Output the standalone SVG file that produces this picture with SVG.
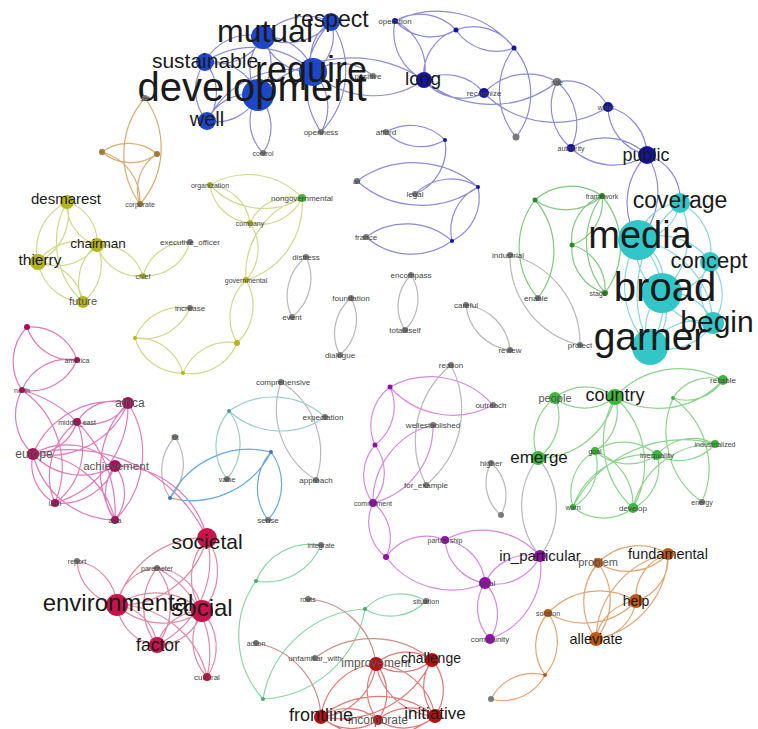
<svg xmlns="http://www.w3.org/2000/svg" width="758" height="729" viewBox="0 0 758 729">
<style>
.e{fill:none;stroke-width:1.2}
.eb{stroke:#8c8cd6}.ec{stroke:#8ad6dc}.eg{stroke:#80c880}.egr{stroke:#b8b8b8}.ey{stroke:#d2d88e}.eo{stroke:#d8ac72}
.em{stroke:#e07ab8}.ecr{stroke:#e08aa2}.elb{stroke:#9ccfc8}.ebl{stroke:#6aa8dc}.ep{stroke:#d68ae2}.eg2{stroke:#8ed48e}
.eo2{stroke:#e2a676}.elg{stroke:#8ad6a8}.ebr{stroke:#c89088}.ered{stroke:#e07878}
.nb{fill:#1e46c8}.nn{fill:#1414a0}.nc{fill:#33c6c8}.ng{fill:#3cb83c}.ndg{fill:#2a8a2a}.ny{fill:#b4b41c}.no{fill:#a07a38}
.nm{fill:#a8105c}.ncr{fill:#c8144a}.np{fill:#9010a8}.nr{fill:#b81010}.nor{fill:#c05810}.ngr{fill:#7a7a7a}
text{font-family:"Liberation Sans",Arial,sans-serif;text-anchor:middle;fill:#1a1a1a}
.s{font-size:8px;fill:#444}
.t{font-size:7px;fill:#444}
.m{fill:#555}
</style>
<rect width="758" height="729" fill="#ffffff"/>
<g id="edges">
<path class="e eb" d="M205 62 A50 50 0 0 1 258 95 M205 62 A50 50 0 0 1 263 37 M263 37 A50 50 0 0 1 205 62 M205 62 A47 47 0 0 1 207 121 M207 121 A47 47 0 0 1 205 62 M205 62 A86 86 0 0 1 313 72 M207 121 A46 46 0 0 1 258 95 M258 95 A46 46 0 0 1 207 121 M207 121 A94 94 0 0 1 313 72 M263 37 A46 46 0 0 1 258 95 M258 95 A46 46 0 0 1 263 37 M263 37 A56 56 0 0 1 331 22 M331 22 A56 56 0 0 1 263 37 M263 37 A49 49 0 0 1 313 72 M313 72 A49 49 0 0 1 263 37 M331 22 A42 42 0 0 1 313 72 M313 72 A42 42 0 0 1 331 22 M331 22 A88 88 0 0 1 321 132 M321 132 A88 88 0 0 1 331 22 M313 72 A49 49 0 0 1 321 132 M258 95 A46 46 0 0 1 263 153 M263 153 A46 46 0 0 1 258 95 M313 72 A48 48 0 0 1 373 76 M258 95 A134 134 0 0 1 424 80 M424 80 A89 89 0 0 1 313 72"/>
<path class="e eb" d="M424 80 A53 53 0 0 1 395 21 M395 21 A53 53 0 0 1 424 80 M424 80 A47 47 0 0 1 456 30 M395 21 A49 49 0 0 1 456 30 M456 30 A49 49 0 0 1 395 21 M456 30 A49 49 0 0 1 514 48 M514 48 A49 49 0 0 1 456 30 M395 21 A98 98 0 0 1 514 48 M424 80 A49 49 0 0 1 484 93 M484 93 A49 49 0 0 1 424 80 M484 93 A59 59 0 0 1 557 82 M557 82 A106 106 0 0 1 424 80 M608 107 A100 100 0 0 1 484 93 M557 82 A46 46 0 0 1 608 107 M557 82 A54 54 0 0 1 571 148 M571 148 A54 54 0 0 1 557 82 M514 48 A71 71 0 0 1 516 137 M516 137 A71 71 0 0 1 514 48 M608 107 A50 50 0 0 1 647 155 M647 155 A50 50 0 0 1 608 107 M571 148 A61 61 0 0 1 647 155 M647 155 A61 61 0 0 1 571 148 M647 155 A68 68 0 0 1 638 240 M638 240 A68 68 0 0 1 647 155 M647 155 A46 46 0 0 1 680 203"/>
<path class="e eb" d="M386 132 A48 48 0 0 1 445 140 M445 140 A48 48 0 0 1 386 132 M445 140 A49 49 0 0 1 415 194 M357 181 A97 97 0 0 1 478 187 M478 187 A97 97 0 0 1 357 181 M478 187 A48 48 0 0 1 452 241 M452 241 A48 48 0 0 1 478 187 M366 237 A69 69 0 0 1 452 241 M452 241 A69 69 0 0 1 366 237 M415 194 A50 50 0 0 1 478 187"/>
<path class="e ec" d="M638 240 A47 47 0 0 1 662 293 M662 293 A47 47 0 0 1 638 240 M638 240 A86 86 0 0 1 650 347 M650 347 A86 86 0 0 1 638 240 M638 240 A45 45 0 0 1 680 203 M680 203 A45 45 0 0 1 638 240 M638 240 A60 60 0 0 1 710 262 M662 293 A45 45 0 0 1 650 347 M650 347 A45 45 0 0 1 662 293 M662 293 A47 47 0 0 1 713 323 M713 323 A47 47 0 0 1 662 293 M710 262 A47 47 0 0 1 662 293 M650 347 A55 55 0 0 1 713 323 M713 323 A55 55 0 0 1 650 347 M680 203 A75 75 0 0 1 662 293 M710 262 A49 49 0 0 1 713 323 M713 323 A49 49 0 0 1 710 262 M680 203 A54 54 0 0 1 710 262 M650 347 A117 117 0 0 1 680 203 M638 240 A88 88 0 0 1 713 323"/>
<path class="e eg" d="M602 196 A54 54 0 0 1 535 200 M535 200 A54 54 0 0 1 602 196 M602 196 A46 46 0 0 1 572 245 M572 245 A46 46 0 0 1 602 196 M602 196 A78 78 0 0 1 605 293 M605 293 A78 78 0 0 1 602 196 M572 245 A46 46 0 0 1 605 293 M605 293 A46 46 0 0 1 572 245 M535 200 A78 78 0 0 1 538 298 M538 298 A78 78 0 0 1 535 200"/>
<path class="e egr" d="M510 255 A91 91 0 0 1 580 345 M580 345 A91 91 0 0 1 510 255 M466 305 A50 50 0 0 1 510 350 M510 350 A50 50 0 0 1 466 305 M306 257 A49 49 0 0 1 292 317 M292 317 A49 49 0 0 1 306 257 M351 298 A46 46 0 0 1 340 355 M340 355 A46 46 0 0 1 351 298 M411 275 A44 44 0 0 1 405 330 M405 330 A44 44 0 0 1 411 275 M451 365 A98 98 0 0 1 426 485 M426 485 A98 98 0 0 1 451 365 M491 463 A42 42 0 0 1 501 515 M501 515 A42 42 0 0 1 491 463 M538 458 A78 78 0 0 1 540 556 M540 556 A78 78 0 0 1 538 458 M281 382 A83 83 0 0 1 316 480 M316 480 A83 83 0 0 1 281 382 M175 437 A49 49 0 0 1 170 498 M170 498 A49 49 0 0 1 175 437"/>
<path class="e ey" d="M210 185 A74 74 0 0 1 302 198 M302 198 A74 74 0 0 1 210 185 M210 185 A44 44 0 0 1 250 223 M250 223 A44 44 0 0 1 210 185 M250 223 A46 46 0 0 1 302 198 M302 198 A46 46 0 0 1 250 223 M302 198 A79 79 0 0 1 246 280 M246 280 A79 79 0 0 1 302 198 M250 223 A46 46 0 0 1 246 280 M246 280 A51 51 0 0 1 237 343 M237 343 A51 51 0 0 1 246 280 M190 308 A50 50 0 0 1 135 338 M135 338 A50 50 0 0 1 190 308 M135 338 A48 48 0 0 1 183 373 M183 373 A48 48 0 0 1 135 338 M183 373 A49 49 0 0 1 237 343 M237 343 A49 49 0 0 1 183 373 M143 276 A46 46 0 0 1 190 242 M190 242 A46 46 0 0 1 143 276 M143 276 A44 44 0 0 1 97 245 M97 245 A44 44 0 0 1 143 276 M67 202 A42 42 0 0 1 97 245 M97 245 A42 42 0 0 1 67 202 M67 202 A53 53 0 0 1 38 262 M38 262 A53 53 0 0 1 67 202 M38 262 A49 49 0 0 1 97 245 M97 245 A49 49 0 0 1 38 262 M38 262 A48 48 0 0 1 83 302 M83 302 A48 48 0 0 1 38 262 M97 245 A47 47 0 0 1 83 302 M83 302 A47 47 0 0 1 97 245 M83 302 A81 81 0 0 1 67 202"/>
<path class="e eo" d="M145 98 A85 85 0 0 1 140 204 M140 204 A85 85 0 0 1 145 98 M102 152 A44 44 0 0 1 157 154 M157 154 A44 44 0 0 1 102 152 M102 152 A51 51 0 0 1 140 204 M140 204 A42 42 0 0 1 157 154"/>
<path class="e em" d="M27 327 A48 48 0 0 1 77 360 M77 360 A48 48 0 0 1 27 327 M22 390 A50 50 0 0 1 27 327 M22 390 A50 50 0 0 1 77 360 M77 360 A50 50 0 0 1 22 390 M33 454 A52 52 0 0 1 22 390 M22 390 A94 94 0 0 1 55 503 M22 390 A128 128 0 0 1 115 520 M128 403 A44 44 0 0 1 77 422 M77 422 A44 44 0 0 1 128 403 M128 403 A86 86 0 0 1 33 454 M33 454 A86 86 0 0 1 128 403 M128 403 A102 102 0 0 1 55 503 M128 403 A94 94 0 0 1 115 520 M115 520 A94 94 0 0 1 128 403 M77 422 A46 46 0 0 1 33 454 M77 422 A67 67 0 0 1 55 503 M55 503 A67 67 0 0 1 77 422 M33 454 A66 66 0 0 1 115 466 M115 466 A66 66 0 0 1 33 454 M33 454 A86 86 0 0 1 115 520 M115 520 A86 86 0 0 1 33 454 M55 503 A44 44 0 0 1 33 454 M115 466 A43 43 0 0 1 115 520 M115 520 A43 43 0 0 1 115 466 M115 466 A94 94 0 0 1 207 538 M33 454 A152 152 0 0 1 207 538 M115 466 A58 58 0 0 1 55 503"/>
<path class="e ecr" d="M207 538 A58 58 0 0 1 202 611 M202 611 A58 58 0 0 1 207 538 M207 538 A90 90 0 0 1 117 605 M117 605 A90 90 0 0 1 207 538 M207 538 A94 94 0 0 1 157 645 M117 605 A68 68 0 0 1 202 611 M202 611 A68 68 0 0 1 117 605 M117 605 A45 45 0 0 1 157 645 M157 645 A45 45 0 0 1 117 605 M117 605 A48 48 0 0 1 77 561 M77 561 A48 48 0 0 1 117 605 M117 605 A92 92 0 0 1 207 677 M202 611 A46 46 0 0 1 157 645 M157 645 A46 46 0 0 1 202 611 M202 611 A53 53 0 0 1 207 677 M207 677 A53 53 0 0 1 202 611 M157 568 A50 50 0 0 1 202 611 M157 568 A62 62 0 0 1 157 645 M157 645 A62 62 0 0 1 157 568 M157 568 A97 97 0 0 1 207 677 M117 605 A43 43 0 0 1 157 568"/>
<path class="e elb" d="M229 411 A77 77 0 0 1 325 417 M325 417 A77 77 0 0 1 229 411 M229 411 A54 54 0 0 1 227 479 M227 479 A54 54 0 0 1 229 411"/>
<path class="e ebl" d="M271 452 A89 89 0 0 1 170 498 M170 498 A89 89 0 0 1 271 452 M271 452 A54 54 0 0 1 268 520 M268 520 A54 54 0 0 1 271 452"/>
<path class="e ep" d="M390 387 A84 84 0 0 1 493 405 M493 405 A84 84 0 0 1 390 387 M390 387 A48 48 0 0 1 375 445 M375 445 A48 48 0 0 1 390 387 M375 445 A46 46 0 0 1 373 503 M373 503 A46 46 0 0 1 375 445 M373 503 A79 79 0 0 1 433 425 M433 425 A79 79 0 0 1 373 503 M373 503 A44 44 0 0 1 386 557 M386 557 A44 44 0 0 1 373 503 M386 557 A49 49 0 0 1 445 540 M445 540 A47 47 0 0 1 485 583 M485 583 A47 47 0 0 1 445 540 M445 540 A77 77 0 0 1 540 556 M540 556 A49 49 0 0 1 485 583 M485 583 A49 49 0 0 1 540 556 M485 583 A45 45 0 0 1 490 639 M490 639 A45 45 0 0 1 485 583 M540 556 A76 76 0 0 1 490 639 M485 583 A82 82 0 0 1 386 557"/>
<path class="e eg2" d="M555 398 A48 48 0 0 1 615 397 M615 397 A48 48 0 0 1 555 398 M555 398 A50 50 0 0 1 538 458 M538 458 A50 50 0 0 1 555 398 M615 397 A79 79 0 0 1 538 458 M615 397 A88 88 0 0 1 723 380 M723 380 A88 88 0 0 1 615 397 M723 380 A43 43 0 0 1 673 398 M673 398 A43 43 0 0 1 723 380 M673 398 A86 86 0 0 1 702 502 M702 502 A86 86 0 0 1 673 398 M615 397 A90 90 0 0 1 633 508 M633 508 A90 90 0 0 1 615 397 M615 397 A46 46 0 0 1 595 451 M595 451 A48 48 0 0 1 573 507 M573 507 A48 48 0 0 1 595 451 M595 451 A50 50 0 0 1 657 455 M657 455 A50 50 0 0 1 595 451 M573 507 A79 79 0 0 1 657 455 M573 507 A124 124 0 0 1 715 444 M657 455 A47 47 0 0 1 715 444 M715 444 A47 47 0 0 1 657 455 M633 508 A83 83 0 0 1 715 444 M657 455 A45 45 0 0 1 633 508 M595 451 A57 57 0 0 1 633 508 M633 508 A48 48 0 0 1 573 507"/>
<path class="e eo2" d="M598 563 A56 56 0 0 1 668 554 M668 554 A56 56 0 0 1 598 563 M598 563 A61 61 0 0 1 596 639 M596 639 A61 61 0 0 1 598 563 M668 554 A45 45 0 0 1 636 601 M636 601 A45 45 0 0 1 668 554 M668 554 A89 89 0 0 1 596 639 M596 639 A89 89 0 0 1 668 554 M636 601 A45 45 0 0 1 596 639 M596 639 A45 45 0 0 1 636 601 M548 613 A71 71 0 0 1 636 601 M636 601 A71 71 0 0 1 548 613 M548 613 A50 50 0 0 1 545 675 M545 675 A50 50 0 0 1 548 613 M545 675 A47 47 0 0 1 491 699 M491 699 A47 47 0 0 1 545 675"/>
<path class="e elg" d="M321 545 A59 59 0 0 1 256 581 M256 581 A59 59 0 0 1 321 545 M256 581 A95 95 0 0 0 263 699 M263 699 A109 109 0 0 1 365 609 M365 609 A109 109 0 0 1 263 699 M365 609 A49 49 0 0 1 426 601 M426 601 A49 49 0 0 1 365 609"/>
<path class="e ebr" d="M308 599 A74 74 0 0 1 376 664 M256 643 A79 79 0 0 1 321 717 M315 658 A94 94 0 0 1 432 660"/>
<path class="e ered" d="M376 664 A45 45 0 0 1 432 660 M432 660 A45 45 0 0 1 376 664 M376 664 A60 60 0 0 1 321 717 M321 717 A60 60 0 0 1 376 664 M376 664 A63 63 0 0 1 435 716 M435 716 A63 63 0 0 1 376 664 M376 664 A45 45 0 0 1 378 720 M378 720 A45 45 0 0 1 376 664 M432 660 A45 45 0 0 1 435 716 M435 716 A45 45 0 0 1 432 660 M432 660 A102 102 0 0 1 321 717 M321 717 A91 91 0 0 1 435 716 M435 716 A91 91 0 0 1 321 717 M321 717 A46 46 0 0 1 378 720 M378 720 A46 46 0 0 1 321 717 M378 720 A46 46 0 0 1 435 716 M435 716 A46 46 0 0 1 378 720"/>
</g>
<g id="nodes">
<g id="n-operation"><circle class="nn" cx="395" cy="21" r="3"/><text class="s" x="395" y="24">operation</text></g>
<g id="n-b1"><circle class="nn" cx="456" cy="30" r="2.5"/></g>
<g id="n-positive"><circle class="ngr" cx="373" cy="76" r="3"/><text class="s" x="368" y="79">positive</text></g>
<g id="n-recognize"><circle class="nn" cx="484" cy="93" r="5"/><text class="s" x="484" y="96">recognize</text></g>
<g id="n-openness"><circle class="ngr" cx="321" cy="132" r="3"/><text class="s" x="321" y="135">openness</text></g>
<g id="n-control"><circle class="ngr" cx="263" cy="153" r="3"/><text class="t" x="263" y="156">control</text></g>
<g id="n-afford"><circle class="ngr" cx="386" cy="132" r="3"/><text class="s" x="386" y="135">afford</text></g>
<g id="n-b2"><circle class="nn" cx="445" cy="140" r="2"/></g>
<g id="n-air"><circle class="ngr" cx="357" cy="181" r="3"/><text class="t" x="357" y="184">air</text></g>
<g id="n-role"><circle class="ngr" cx="557" cy="82" r="4"/><text class="t" x="557" y="85">role</text></g>
<g id="n-b3"><circle class="nn" cx="514" cy="48" r="2.5"/></g>
<g id="n-b4"><circle class="ngr" cx="516" cy="137" r="3.5"/></g>
<g id="n-wider"><circle class="nn" cx="608" cy="107" r="5"/><text class="t" x="606" y="110">wider</text></g>
<g id="n-authority"><circle class="nn" cx="571" cy="148" r="4"/><text class="t" x="571" y="151">authority</text></g>
<g id="n-legal"><circle class="ngr" cx="415" cy="194" r="3"/><text class="s" x="415" y="197">legal</text></g>
<g id="n-b5"><circle class="nn" cx="478" cy="187" r="2"/></g>
<g id="n-b6"><circle class="nn" cx="452" cy="241" r="2"/></g>
<g id="n-france"><circle class="ngr" cx="366" cy="237" r="3"/><text class="s" x="366" y="240">france</text></g>
<g id="n-sustainable"><circle class="nb" cx="205" cy="62" r="9"/><text x="205" y="68" font-size="21" fill="#333">sustainable</text></g>
<g id="n-well"><circle class="nb" cx="207" cy="121" r="9"/><text x="207" y="126" font-size="20" fill="#333">well</text></g>
<g id="n-long"><circle class="nn" cx="424" cy="80" r="8"/><text x="423" y="85" font-size="19" fill="#333">long</text></g>
<g id="n-public"><circle class="nn" cx="647" cy="155" r="9"/><text x="646" y="161" font-size="18" fill="#333">public</text></g>
<g id="n-respect"><circle class="nb" cx="331" cy="22" r="9"/><text x="331" y="27" font-size="23">respect</text></g>
<g id="n-mutual"><circle class="nb" cx="263" cy="37" r="12"/><text x="265" y="42" font-size="32">mutual</text></g>
<g id="n-development"><circle class="nb" cx="258" cy="95" r="16"/><text x="252" y="101" font-size="40">development</text></g>
<g id="n-require"><circle class="nb" cx="313" cy="72" r="14"/><text x="311" y="82" font-size="36">require</text></g>
<g id="n-distress"><circle class="ngr" cx="306" cy="257" r="3"/><text class="s" x="306" y="260">distress</text></g>
<g id="n-event"><circle class="ngr" cx="292" cy="317" r="3"/><text class="s" x="292" y="320">event</text></g>
<g id="n-foundation"><circle class="ngr" cx="351" cy="298" r="3"/><text class="s" x="351" y="301">foundation</text></g>
<g id="n-dialogue"><circle class="ngr" cx="340" cy="355" r="3"/><text class="s" x="340" y="358">dialogue</text></g>
<g id="n-encompass"><circle class="ngr" cx="411" cy="275" r="3"/><text class="s" x="411" y="278">encompass</text></g>
<g id="n-totalitself"><circle class="ngr" cx="405" cy="330" r="3"/><text class="s" x="405" y="333">totalitself</text></g>
<g id="n-framework"><circle class="ndg" cx="602" cy="196" r="3"/><text class="t" x="602" y="199">framework</text></g>
<g id="n-g1"><circle class="ndg" cx="535" cy="200" r="2.5"/></g>
<g id="n-g2"><circle class="ndg" cx="572" cy="245" r="2.5"/></g>
<g id="n-stage"><circle class="ndg" cx="605" cy="293" r="3"/><text class="t" x="598" y="296">stage</text></g>
<g id="n-industrial"><circle class="ngr" cx="510" cy="255" r="3"/><text class="s" x="508" y="258">industrial</text></g>
<g id="n-enable"><circle class="ngr" cx="538" cy="298" r="3"/><text class="s" x="536" y="301">enable</text></g>
<g id="n-review"><circle class="ngr" cx="510" cy="350" r="3"/><text class="s" x="510" y="353">review</text></g>
<g id="n-protect"><circle class="ngr" cx="580" cy="345" r="3"/><text class="s" x="580" y="348">protect</text></g>
<g id="n-careful"><circle class="ngr" cx="466" cy="305" r="3"/><text class="s" x="466" y="308">careful</text></g>
<g id="n-coverage"><circle class="nc" cx="680" cy="203" r="10"/><text x="680" y="208" font-size="23">coverage</text></g>
<g id="n-concept"><circle class="nc" cx="710" cy="262" r="10"/><text x="709" y="268" font-size="22">concept</text></g>
<g id="n-begin"><circle class="nc" cx="713" cy="323" r="11"/><text x="717" y="332" font-size="30">begin</text></g>
<g id="n-media"><circle class="nc" cx="638" cy="240" r="20"/><text x="640" y="248" font-size="38">media</text></g>
<g id="n-broad"><circle class="nc" cx="662" cy="293" r="20"/><text x="665" y="301" font-size="40">broad</text></g>
<g id="n-garner"><circle class="nc" cx="650" cy="347" r="18"/><text x="650" y="350" font-size="39">garner</text></g>
<g id="n-organization"><circle class="ny" cx="210" cy="185" r="3"/><text class="t" x="210" y="188">organization</text></g>
<g id="n-nongovernmental"><circle class="ng" cx="302" cy="198" r="4"/><text class="s" x="302" y="201">nongovernmental</text></g>
<g id="n-company"><circle class="ny" cx="250" cy="223" r="3"/><text class="t" x="250" y="226">company</text></g>
<g id="n-executive_officer"><circle class="ngr" cx="190" cy="242" r="3"/><text class="s" x="190" y="245">executive_officer</text></g>
<g id="n-chief"><circle class="ny" cx="143" cy="276" r="3"/><text class="t" x="143" y="279">chief</text></g>
<g id="n-governmental"><circle class="ny" cx="246" cy="280" r="3"/><text class="t" x="246" y="283">governmental</text></g>
<g id="n-increase"><circle class="ngr" cx="190" cy="308" r="3"/><text class="s" x="190" y="311">increase</text></g>
<g id="n-y1"><circle class="ny" cx="135" cy="338" r="2"/></g>
<g id="n-y2"><circle class="ny" cx="237" cy="343" r="3"/></g>
<g id="n-y3"><circle class="ny" cx="183" cy="373" r="2"/></g>
<g id="n-desmarest"><circle class="ny" cx="67" cy="202" r="7"/><text x="66" y="204" font-size="15">desmarest</text></g>
<g id="n-chairman"><circle class="ny" cx="97" cy="245" r="7"/><text x="98" y="248" font-size="13.5">chairman</text></g>
<g id="n-thierry"><circle class="ny" cx="38" cy="262" r="8"/><text x="40" y="265" font-size="15.5">thierry</text></g>
<g id="n-future"><circle class="ny" cx="83" cy="302" r="6"/><text class="m" x="83" y="305" font-size="11">future</text></g>
<g id="n-set"><circle class="ngr" cx="145" cy="98" r="3"/><text class="t" x="145" y="101">set</text></g>
<g id="n-o2"><circle class="no" cx="102" cy="152" r="3"/></g>
<g id="n-o3"><circle class="no" cx="157" cy="154" r="3"/></g>
<g id="n-corporate"><circle class="no" cx="140" cy="204" r="3"/><text class="t" x="140" y="207">corporate</text></g>
<g id="n-m1"><circle class="nm" cx="27" cy="327" r="3"/></g>
<g id="n-america"><circle class="nm" cx="77" cy="360" r="3"/><text class="t" x="77" y="363">america</text></g>
<g id="n-north"><circle class="nm" cx="22" cy="390" r="3"/><text class="t" x="22" y="393">north</text></g>
<g id="n-middle_east"><circle class="nm" cx="77" cy="422" r="4"/><text class="t" x="77" y="425">middle_east</text></g>
<g id="n-latin"><circle class="nm" cx="55" cy="503" r="4"/><text class="t" x="55" y="506">latin</text></g>
<g id="n-asia"><circle class="nm" cx="115" cy="520" r="4"/><text class="t" x="115" y="523">asia</text></g>
<g id="n-africa"><circle class="nm" cx="128" cy="403" r="6"/><text class="m" x="130" y="407" font-size="12">africa</text></g>
<g id="n-europe"><circle class="nm" cx="33" cy="454" r="6"/><text class="m" x="34" y="458" font-size="12">europe</text></g>
<g id="n-achievement"><circle class="nm" cx="115" cy="466" r="6"/><text class="m" x="116" y="470" font-size="11.6">achievement</text></g>
<g id="n-report"><circle class="ngr" cx="77" cy="561" r="3"/><text class="t" x="77" y="564">report</text></g>
<g id="n-parameter"><circle class="ngr" cx="157" cy="568" r="3"/><text class="t" x="157" y="571">parameter</text></g>
<g id="n-cultural"><circle class="ncr" cx="207" cy="677" r="4"/><text class="s" x="207" y="680">cultural</text></g>
<g id="n-societal"><circle class="ncr" cx="207" cy="538" r="10"/><text x="207" y="549" font-size="21">societal</text></g>
<g id="n-factor"><circle class="ncr" cx="157" cy="645" r="8"/><text x="158" y="651" font-size="17.5">factor</text></g>
<g id="n-environmental"><circle class="ncr" cx="117" cy="605" r="11"/><text x="118" y="611" font-size="24">environmental</text></g>
<g id="n-social"><circle class="ncr" cx="202" cy="611" r="11"/><text x="202" y="616" font-size="24">social</text></g>
<g id="n-comprehensive"><circle class="ngr" cx="281" cy="382" r="3"/><text class="s" x="283" y="385">comprehensive</text></g>
<g id="n-expectation"><circle class="ngr" cx="325" cy="417" r="3"/><text class="s" x="323" y="420">expectation</text></g>
<g id="n-approach"><circle class="ngr" cx="316" cy="480" r="3"/><text class="s" x="316" y="483">approach</text></g>
<g id="n-sense"><circle class="ngr" cx="268" cy="520" r="3"/><text class="s" x="268" y="523">sense</text></g>
<g id="n-value"><circle class="ngr" cx="227" cy="479" r="3"/><text class="t" x="227" y="482">value</text></g>
<g id="n-lot"><circle class="ngr" cx="175" cy="437" r="3"/><text class="t" x="175" y="440">lot</text></g>
<g id="n-lb1"><circle fill="#3a78c0" cx="271" cy="452" r="2"/></g>
<g id="n-lb2"><circle fill="#3a78c0" cx="170" cy="498" r="2"/></g>
<g id="n-lb3"><circle fill="#4a9a9a" cx="229" cy="411" r="2"/></g>
<g id="n-reason"><circle class="ngr" cx="451" cy="365" r="3"/><text class="s" x="451" y="368">reason</text></g>
<g id="n-outreach"><circle class="ngr" cx="493" cy="405" r="3"/><text class="s" x="491" y="408">outreach</text></g>
<g id="n-p1"><circle class="np" cx="390" cy="387" r="2.5"/></g>
<g id="n-wellestablished"><circle class="ngr" cx="433" cy="425" r="3"/><text class="s" x="433" y="428">wellestablished</text></g>
<g id="n-p2"><circle class="np" cx="375" cy="445" r="2.5"/></g>
<g id="n-for_example"><circle class="ngr" cx="426" cy="485" r="3"/><text class="s" x="426" y="488">for_example</text></g>
<g id="n-commitment"><circle class="np" cx="373" cy="503" r="4"/><text class="t" x="373" y="506">commitment</text></g>
<g id="n-higher"><circle class="ngr" cx="491" cy="463" r="3"/><text class="s" x="491" y="466">higher</text></g>
<g id="n-gr1"><circle class="ngr" cx="501" cy="515" r="3"/></g>
<g id="n-partnership"><circle class="np" cx="445" cy="540" r="4"/><text class="t" x="445" y="543">partnership</text></g>
<g id="n-p3"><circle class="np" cx="386" cy="557" r="3"/></g>
<g id="n-local"><circle class="np" cx="485" cy="583" r="6"/><text class="s" x="487" y="586">local</text></g>
<g id="n-community"><circle class="np" cx="490" cy="639" r="5"/><text class="s" x="490" y="642">community</text></g>
<g id="n-in_particular"><circle class="np" cx="540" cy="556" r="6"/><text x="540" y="561" font-size="15">in_particular</text></g>
<g id="n-people"><circle class="ng" cx="555" cy="398" r="6"/><text class="m" x="555" y="402" font-size="11">people</text></g>
<g id="n-reliable"><circle class="ng" cx="723" cy="380" r="5"/><text class="s" x="723" y="383">reliable</text></g>
<g id="n-g4"><circle class="ng" cx="673" cy="398" r="2"/></g>
<g id="n-goal"><circle class="ng" cx="595" cy="451" r="4"/><text class="t" x="595" y="454">goal</text></g>
<g id="n-inequality"><circle class="ng" cx="657" cy="455" r="5"/><text class="s" x="657" y="458">inequality</text></g>
<g id="n-industrialized"><circle class="ng" cx="715" cy="444" r="4"/><text class="t" x="715" y="447">industrialized</text></g>
<g id="n-warn"><circle class="ng" cx="573" cy="507" r="3"/><text class="t" x="573" y="510">warn</text></g>
<g id="n-develop"><circle class="ng" cx="633" cy="508" r="5"/><text class="s" x="633" y="511">develop</text></g>
<g id="n-energy"><circle class="ngr" cx="702" cy="502" r="3"/><text class="t" x="702" y="505">energy</text></g>
<g id="n-country"><circle class="ng" cx="615" cy="397" r="8"/><text x="615" y="401" font-size="18">country</text></g>
<g id="n-emerge"><circle class="ng" cx="538" cy="458" r="7"/><text x="539" y="463" font-size="17">emerge</text></g>
<g id="n-solution"><circle class="nor" cx="548" cy="613" r="4"/><text class="t" x="548" y="616">solution</text></g>
<g id="n-or1"><circle class="nor" cx="545" cy="675" r="2"/></g>
<g id="n-ask"><circle class="ngr" cx="491" cy="699" r="3"/></g>
<g id="n-problem"><circle class="nor" cx="598" cy="563" r="5"/><text class="m" x="598" y="566" font-size="11">problem</text></g>
<g id="n-fundamental"><circle class="nor" cx="668" cy="554" r="6"/><text x="668" y="559" font-size="14.5">fundamental</text></g>
<g id="n-help"><circle class="nor" cx="636" cy="601" r="7"/><text x="636" y="606" font-size="14">help</text></g>
<g id="n-alleviate"><circle class="nor" cx="596" cy="639" r="7"/><text x="596" y="644" font-size="14.5">alleviate</text></g>
<g id="n-integrate"><circle class="ngr" cx="321" cy="545" r="3"/><text class="t" x="321" y="548">integrate</text></g>
<g id="n-lg1"><circle fill="#4aa870" cx="256" cy="581" r="2"/></g>
<g id="n-roots"><circle class="ngr" cx="308" cy="599" r="3"/><text class="t" x="308" y="602">roots</text></g>
<g id="n-situation"><circle class="ngr" cx="426" cy="601" r="3"/><text class="t" x="426" y="604">situation</text></g>
<g id="n-lg2"><circle fill="#4aa870" cx="365" cy="609" r="2"/></g>
<g id="n-action"><circle class="ngr" cx="256" cy="643" r="3"/><text class="t" x="256" y="646">action</text></g>
<g id="n-unfamiliar_with"><circle class="ngr" cx="315" cy="658" r="3"/><text class="s" x="315" y="661">unfamiliar_with</text></g>
<g id="n-lg3"><circle fill="#4aa870" cx="263" cy="699" r="2"/></g>
<g id="n-improvement"><circle class="nr" cx="376" cy="664" r="7"/><text class="m" x="376" y="667" font-size="12">improvement</text></g>
<g id="n-challenge"><circle class="nr" cx="432" cy="660" r="7"/><text x="431" y="663" font-size="14">challenge</text></g>
<g id="n-incorporate"><circle class="nr" cx="378" cy="720" r="5"/><text class="m" x="378" y="724" font-size="12">incorporate</text></g>
<g id="n-frontline"><circle class="nr" cx="321" cy="717" r="7"/><text x="321" y="721" font-size="18">frontline</text></g>
<g id="n-initiative"><circle class="nr" cx="435" cy="716" r="7"/><text x="435" y="719" font-size="17">initiative</text></g>
</g>
</svg>
